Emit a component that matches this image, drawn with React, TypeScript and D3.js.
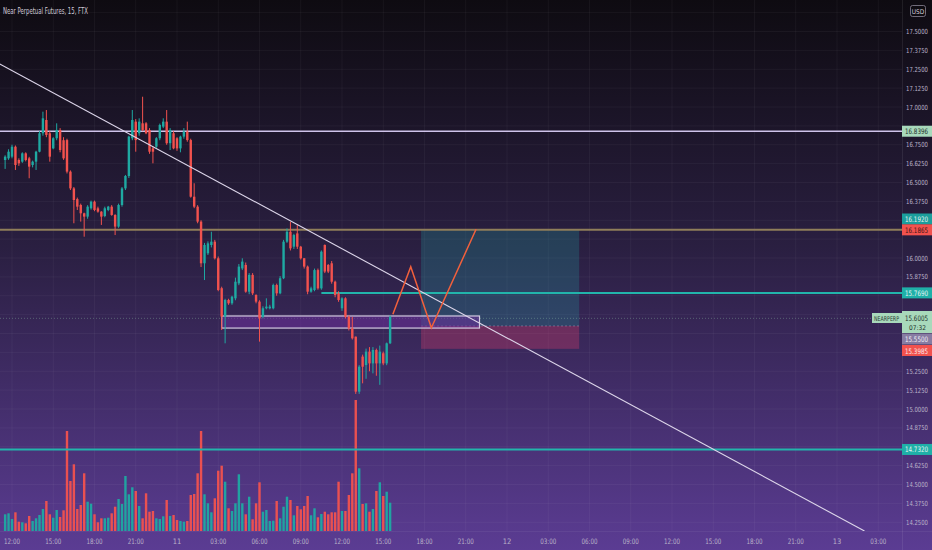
import React from "react";
import * as d3 from "d3";

const W = 932;
const H = 550;
const PLOT_R = 902;
const PLOT_B = 531;

const title = "Near Perpetual Futures, 15, FTX";
// hours relative to 00:00 on day 11; first candle 11:30 on day 10, 15-minute bars
const firstCandleHour = -12.5;
const barHours = 0.25;

const opens = [16.649,16.66,16.671,16.737,16.649,16.638,16.693,16.66,16.616,16.638,16.704,16.826,16.914,16.826,16.726,16.793,16.848,16.78,16.781,16.572,16.461,16.39,16.351,16.296,16.274,16.329,16.373,16.329,16.307,16.278,16.318,16.34,16.285,16.208,16.351,16.461,16.543,16.793,16.903,16.826,16.892,16.892,16.848,16.726,16.737,16.793,16.87,16.903,16.76,16.826,16.793,16.726,16.804,16.837,16.781,16.406,16.34,16.241,15.965,16.031,16.086,16.108,15.998,15.8,15.612,15.722,15.7,15.733,15.832,15.931,15.954,15.777,15.888,15.755,15.711,15.611,15.667,15.667,15.667,15.821,15.766,15.866,16.108,16.174,16.075,16.163,16.075,15.998,15.943,15.777,15.788,15.92,15.799,16.086,15.954,15.965,15.843,15.766,15.667,15.733,15.611,15.534,15.479,15.115,15.347,15.291,15.38,15.302,15.391,15.302,15.369,15.302,15.435];
const highs = [16.68,16.72,16.75,16.745,16.66,16.7,16.7,16.67,16.645,16.71,16.84,16.969,16.98,16.84,16.8,16.892,16.86,16.8,16.79,16.58,16.47,16.4,16.36,16.3,16.35,16.38,16.38,16.34,16.31,16.34,16.345,16.35,16.29,16.36,16.47,16.55,16.81,16.98,16.92,16.925,17.068,16.9,16.86,16.74,16.8,16.89,16.925,16.98,16.86,16.84,16.8,16.81,16.86,16.903,16.79,16.495,16.35,16.25,16.1,16.11,16.174,16.12,16.01,15.81,15.73,15.73,15.75,15.87,15.96,15.998,15.97,15.9,15.9,15.76,15.72,15.68,15.733,15.69,15.83,15.83,15.88,16.12,16.196,16.24,16.16,16.218,16.08,16.0,15.95,15.81,15.93,15.93,16.05,16.09,15.96,15.98,15.85,15.78,15.74,15.74,15.62,15.61,15.48,15.29,15.36,15.4,15.41,15.41,15.4,15.42,15.38,15.44,15.62];
const lows = [16.59,16.65,16.66,16.583,16.61,16.63,16.64,16.528,16.6,16.583,16.7,16.81,16.8,16.638,16.72,16.78,16.7,16.65,16.56,16.45,16.23,16.318,16.241,16.141,16.26,16.32,16.31,16.3,16.219,16.27,16.31,16.28,16.152,16.2,16.34,16.45,16.53,16.78,16.704,16.81,16.84,16.82,16.69,16.627,16.73,16.78,16.86,16.75,16.715,16.72,16.71,16.7,16.79,16.77,16.4,16.33,16.23,15.94,15.854,16.02,16.07,15.99,15.78,15.523,15.435,15.69,15.69,15.72,15.82,15.92,15.77,15.76,15.755,15.7,15.446,15.6,15.66,15.66,15.66,15.75,15.76,15.86,16.1,16.05,16.06,16.06,15.99,15.93,15.76,15.77,15.78,15.79,15.79,15.9,15.9,15.83,15.74,15.71,15.65,15.6,15.52,15.46,15.1,15.1,15.17,15.2,15.25,15.236,15.22,15.16,15.29,15.29,15.43];
const closes = [16.671,16.704,16.737,16.616,16.627,16.693,16.649,16.605,16.638,16.704,16.826,16.925,16.815,16.671,16.793,16.848,16.715,16.66,16.572,16.461,16.384,16.34,16.296,16.274,16.34,16.373,16.318,16.307,16.274,16.329,16.34,16.285,16.208,16.351,16.461,16.543,16.804,16.914,16.781,16.903,16.848,16.826,16.704,16.704,16.793,16.881,16.903,16.76,16.848,16.726,16.726,16.804,16.837,16.781,16.406,16.34,16.241,15.965,16.086,16.097,16.108,15.998,15.788,15.612,15.722,15.7,15.744,15.843,15.943,15.976,15.777,15.888,15.766,15.711,15.6,15.667,15.678,15.678,15.821,15.766,15.866,16.108,16.174,16.064,16.152,16.075,15.998,15.943,15.777,15.799,15.92,15.799,16.042,15.91,15.91,15.843,15.755,15.722,15.733,15.611,15.534,15.468,15.115,15.28,15.28,15.38,15.302,15.391,15.302,15.38,15.302,15.435,15.611];
// volume in thousands
const volumes = [16.7,17.7,12,18.7,9.3,8.7,7.7,15,10,12.7,16,22,30,16.7,13.3,21,14,20.7,100,50,66.7,22,26,57.7,29.3,27.3,16.7,8.7,12.7,12.7,13.3,17.7,24.3,32,27,55,36.7,43.7,40,25,12.7,37.7,19.3,20,12.7,12,14.7,31,15,16,11,10,9.3,10,36,37,57.7,100,36.7,27.7,18.7,32.7,60.3,65.3,49.3,22.7,20,27.7,56.7,27.7,16.7,34.3,11.7,27.7,48.7,19.3,21,10,10.3,30,12.7,24.3,34.3,31,15.7,25,21.7,25,35,15.7,22.7,13.7,17,19.3,16.7,18.7,18.7,49.3,20,20,36,57.7,131,62.7,27,27.7,19.3,22,40,48.7,35,39.3,28.3];

const priceTicks = [17.625,17.5,17.375,17.25,17.125,17.0,16.875,16.75,16.625,16.5,16.375,16.25,16.125,16.0,15.875,15.75,15.625,15.5,15.375,15.25,15.125,15.0,14.875,14.75,14.625,14.5,14.375,14.25];
const timeTickHours = [-12,-9,-6,-3,0,3,6,9,12,15,18,21,24,27,30,33,36,39,42,45,48,51];
const timeTickLabels = ["12:00","15:00","18:00","21:00","11","03:00","06:00","09:00","12:00","15:00","18:00","21:00","12","03:00","06:00","09:00","12:00","15:00","18:00","21:00","13","03:00"];

// drawings
const levelPrices = [16.8396, 16.1865, 14.732];
const levelColors = ["#cfc3ea", "#8f7e5a", "#22b4ab"];
const levelWidths = [1.6, 2, 2];
const partialLevelStartHour = 10.5;
const partialLevelPrice = 15.769;
const trendHours = [-13, 50];
const trendPrices = [17.291, 14.192];
const zoneHours = [3.25, 22.0];
const zonePrices = [15.616, 15.536];
const posHours = [17.75, 29.25];
const posTarget = 16.192;
const posEntry = 15.55;
const posStop = 15.3985;
const zigHours = [15.7, 17.0, 18.5, 21.75];
const zigPrices = [15.627, 15.942, 15.538, 16.19];
const lastPrice = 15.6005;

const UP = "#1fa9a2";
const DOWN = "#f2524e";
const NARROW = "'Liberation Sans Narrow','DejaVu Sans Condensed','Roboto Condensed',Roboto,sans-serif";

export default function App() {
  const x = d3.scaleLinear().domain([-12.8727, 52.7273]).range([0, PLOT_R]);
  const y = d3.scaleLinear().domain([17, 14.25]).range([107, 522.25]);
  const v = d3.scaleLinear().domain([0, 140]).range([PLOT_B, PLOT_B - 140]);
  const bodyW = 2.4;

  const candles = opens.map((o, i) => ({
    t: firstCandleHour + i * barHours,
    o, h: highs[i], l: lows[i], c: closes[i], vol: volumes[i],
  }));

  const zigLine = d3.line<number>().x((_, i) => x(zigHours[i])).y((p) => y(p))(zigPrices) || "";

  // vertical centres of the price-axis tags (and USD badge) — ticks behind them are hidden
  const tagCentres = [11, y(levelPrices[0]), 219, y(levelPrices[1]), y(partialLevelPrice), 316, 328, 339, 350.5, y(levelPrices[2])];
  const visibleTicks = priceTicks.filter((p) => tagCentres.every((c) => Math.abs(y(p) - c) >= 9.5));

  const tag = (yc: number, text: string, bg: string, fg: string, key: string) => (
    <g key={key}>
      <rect x={PLOT_R} y={yc - 5.5} width={30} height={11} fill={bg} />
      <text x={PLOT_R + 3} y={yc + 3} fontSize={7.5} fill={fg} textLength={23} lengthAdjust="spacingAndGlyphs" fontFamily={NARROW}>{text}</text>
    </g>
  );

  return (
    <svg width={W} height={H} style={{ position: "fixed", left: 0, top: 0 }} xmlns="http://www.w3.org/2000/svg">
      <defs>
        <linearGradient id="bg" x1="0" y1="0" x2="0" y2="1">
          <stop offset="0" stopColor="#0e0b11" />
          <stop offset="0.45" stopColor="#2a1f41" />
          <stop offset="1" stopColor="#5b3c93" />
        </linearGradient>
        <clipPath id="plot"><rect x={0} y={0} width={PLOT_R} height={PLOT_B} /></clipPath>
      </defs>
      <rect x={0} y={0} width={W} height={H} fill="url(#bg)" />

      {/* grid */}
      <g stroke="rgba(255,255,255,0.045)" strokeWidth={1}>
        {priceTicks.map((p) => (
          <line key={"hg" + p} x1={0} x2={PLOT_R} y1={y(p)} y2={y(p)} />
        ))}
        {timeTickHours.map((t) => (
          <line key={"vg" + t} x1={x(t)} x2={x(t)} y1={0} y2={PLOT_B} />
        ))}
      </g>
      <line x1={PLOT_R + 0.5} x2={PLOT_R + 0.5} y1={0} y2={H} stroke="rgba(255,255,255,0.08)" />
      <line x1={0} x2={W} y1={PLOT_B + 0.5} y2={PLOT_B + 0.5} stroke="rgba(255,255,255,0.06)" />

      <g clipPath="url(#plot)">
        {/* volume */}
        {candles.map((d, i) => (
          <rect key={"v" + i} x={x(d.t) - bodyW / 2} y={v(d.vol)} width={bodyW} height={PLOT_B - v(d.vol)} fill={d.c >= d.o ? UP : DOWN} opacity={0.95} />
        ))}

        {/* long position box */}
        <rect x={x(posHours[0])} width={x(posHours[1]) - x(posHours[0])} y={y(posTarget)} height={y(posEntry) - y(posTarget)} fill="#1f9e9e" opacity={0.26} />
        <rect x={x(posHours[0])} width={x(posHours[1]) - x(posHours[0])} y={y(posEntry)} height={y(posStop) - y(posEntry)} fill="#e8406e" opacity={0.3} />
        <line x1={x(posHours[0])} x2={x(posHours[1])} y1={y(posEntry)} y2={y(posEntry)} stroke="rgba(200,200,220,0.35)" strokeDasharray="2 2" />

        {/* horizontal levels */}
        {levelPrices.map((p, i) => (
          <line key={"lv" + i} x1={0} x2={PLOT_R} y1={y(p)} y2={y(p)} stroke={levelColors[i]} strokeWidth={levelWidths[i]} />
        ))}
        <line x1={x(partialLevelStartHour)} x2={PLOT_R} y1={y(partialLevelPrice)} y2={y(partialLevelPrice)} stroke="#22b4ab" strokeWidth={2} />

        {/* current price line */}
        <line x1={0} x2={PLOT_R} y1={y(lastPrice)} y2={y(lastPrice)} stroke="#9bd3b0" strokeOpacity={0.35} strokeDasharray="1 2" />

        {/* zone rectangle */}
        <rect x={x(zoneHours[0])} width={x(zoneHours[1]) - x(zoneHours[0])} y={y(zonePrices[0])} height={y(zonePrices[1]) - y(zonePrices[0])} fill="#6c2f9b" fillOpacity={0.55} stroke="#d3cbe2" strokeWidth={1.2} />

        {/* candles */}
        {candles.map((d, i) => {
          const col = d.c >= d.o ? UP : DOWN;
          const top = y(Math.max(d.o, d.c));
          const bot = y(Math.min(d.o, d.c));
          return (
            <g key={"c" + i}>
              <line x1={x(d.t)} x2={x(d.t)} y1={y(d.h)} y2={y(d.l)} stroke={col} strokeWidth={1} />
              <rect x={x(d.t) - bodyW / 2} y={top} width={bodyW} height={Math.max(1, bot - top)} fill={col} />
            </g>
          );
        })}

        {/* trend line */}
        <line x1={x(trendHours[0])} y1={y(trendPrices[0])} x2={x(trendHours[1])} y2={y(trendPrices[1])} stroke="#ddd6ea" strokeWidth={1.1} />

        {/* projected path */}
        <path d={zigLine} fill="none" stroke="#f2603c" strokeWidth={1.5} />
      </g>

      {/* title */}
      <text x={3} y={14} fontSize={9} fill="#cfc9d8" fontFamily={NARROW} textLength={85} lengthAdjust="spacingAndGlyphs">{title}</text>

      {/* price axis labels */}
      {visibleTicks.map((p) => (
        <text key={"pt" + p} x={PLOT_R + 4} y={y(p) + 2.5} fontSize={7} fill="#b9b2c8" fontFamily={NARROW} textLength={22} lengthAdjust="spacingAndGlyphs">{p.toFixed(4)}</text>
      ))}

      {/* time axis labels */}
      {timeTickHours.map((t, i) => (
        <text key={"tt" + t} x={x(t)} y={544} fontSize={7.5} fill="#b9b2c8" textAnchor="middle" fontFamily={NARROW}
          {...(timeTickLabels[i].length > 2 ? { textLength: 16, lengthAdjust: "spacingAndGlyphs" } : {})}>{timeTickLabels[i]}</text>
      ))}

      {/* USD box */}
      <rect x={910.5} y={5.5} width={15} height={11} rx={2} fill="#0e0b11" stroke="#8a8496" strokeWidth={0.8} />
      <text x={918} y={13.5} fontSize={6.5} fill="#d0cad8" textAnchor="middle" fontFamily={NARROW}>USD</text>

      {/* price tags */}
      {tag(y(levelPrices[0]), "16.8396", "#a8d9bb", "#22302a", "t1")}
      {tag(219, "16.1920", "#1b9e9c", "#e6f4f3", "t2")}
      {tag(y(levelPrices[1]), "16.1865", "#f2524e", "#3a1414", "t3")}
      {tag(y(partialLevelPrice), "15.7690", "#1fb0a8", "#e6f4f3", "t4")}
      <g>
        <rect x={PLOT_R - 30} y={313} width={30} height={10} fill="#a8d9bb" />
        <text x={PLOT_R - 28} y={320.5} fontSize={6.5} fill="#2a3a32" fontFamily={NARROW} textLength={25} lengthAdjust="spacingAndGlyphs">NEARPERP</text>
        <rect x={PLOT_R} y={311} width={30} height={22} fill="#a8d9bb" />
        <text x={PLOT_R + 3} y={320.5} fontSize={7.5} fill="#22302a" fontFamily={NARROW} textLength={23} lengthAdjust="spacingAndGlyphs">15.6005</text>
        <text x={PLOT_R + 7} y={330} fontSize={6.5} fill="#22302a" fontFamily={NARROW}>07:32</text>
      </g>
      {tag(339, "15.5500", "#877ca2", "#f2eff7", "t5")}
      {tag(350.5, "15.3985", "#f2524e", "#fbe9e9", "t6")}
      {tag(y(levelPrices[2]), "14.7320", "#1fb0a8", "#e6f4f3", "t7")}
    </svg>
  );
}
